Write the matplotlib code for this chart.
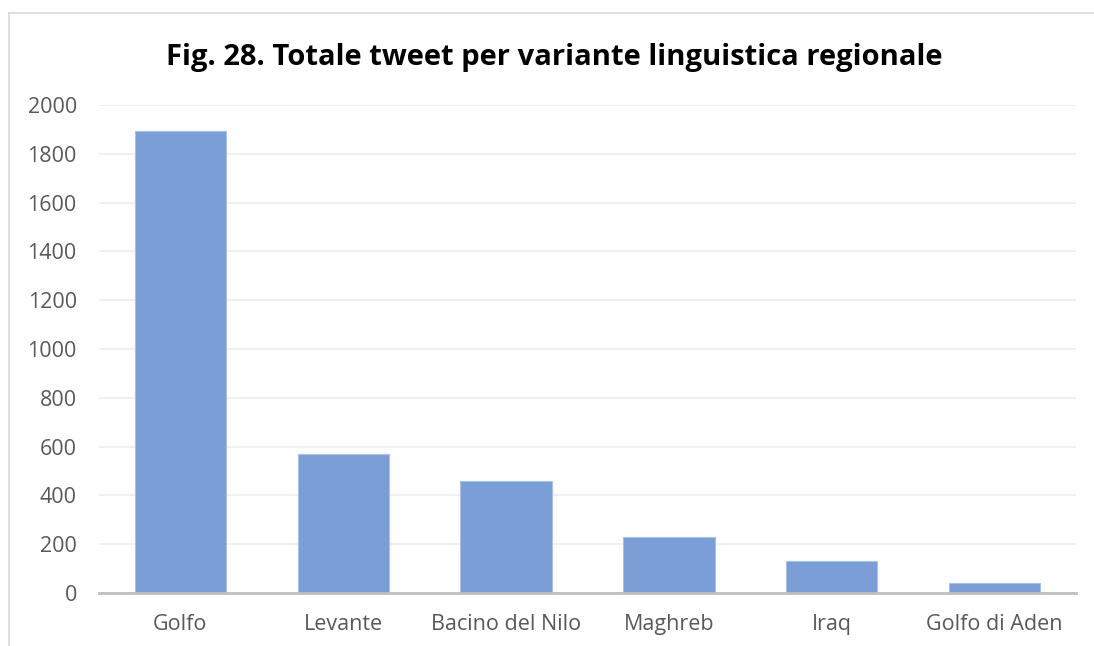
import matplotlib
matplotlib.use("Agg")
import matplotlib.pyplot as plt
from matplotlib.lines import Line2D

categories = ["Golfo", "Levante", "Bacino del Nilo", "Maghreb", "Iraq", "Golfo di Aden"]
values = [1895, 570, 458, 230, 131, 42]
yticks = [0, 200, 400, 600, 800, 1000, 1200, 1400, 1600, 1800, 2000]
title = "Fig. 28. Totale tweet per variante linguistica regionale"

plt.rcParams['font.family'] = ['Open Sans', 'DejaVu Sans']

W, H = 1094, 646
fig = plt.figure(figsize=(W / 100, H / 100), dpi=100)
ax = fig.add_axes([99 / W, 1 - 593 / H, (1076 - 99) / W, (593 - 105) / H])

x = list(range(len(categories)))
ax.bar(x, values, width=0.56, color='#7B9ED7', edgecolor='#A9C0E6', linewidth=0.8, zorder=3)
ax.set_xlim(-0.5, len(categories) - 0.5)
ax.set_ylim(0, 2000)
ax.set_yticks(yticks)
ax.set_yticklabels([str(v) for v in yticks])
ax.set_xticks(x)
ax.set_xticklabels(categories)
ax.tick_params(axis='both', length=0, labelsize=15.5, colors='#595959')
ax.tick_params(axis='y', pad=16)
ax.tick_params(axis='x', pad=15)
ax.grid(axis='y', color='#EDEDED', linewidth=1.2, zorder=0)
for s in ['top', 'right', 'left']:
    ax.spines[s].set_visible(False)
ax.spines['bottom'].set_color('#BFBFBF')
ax.spines['bottom'].set_linewidth(2)
ax.spines['bottom'].set_zorder(4)

fig.text(554 / W, 1 - 57 / H, title, ha='center', va='center', fontsize=21,
         fontweight='bold', color='#000000')

# outer chart frame (left and top edges visible)
fig.add_artist(Line2D([8.5 / W, 8.5 / W], [0, 1 - 12.5 / H], transform=fig.transFigure,
                      color='#D9D9D9', linewidth=1.2))
fig.add_artist(Line2D([8.5 / W, 1], [1 - 12.5 / H, 1 - 12.5 / H], transform=fig.transFigure,
                      color='#D9D9D9', linewidth=1.2))

fig.savefig("out.png", dpi=100, facecolor='white')
